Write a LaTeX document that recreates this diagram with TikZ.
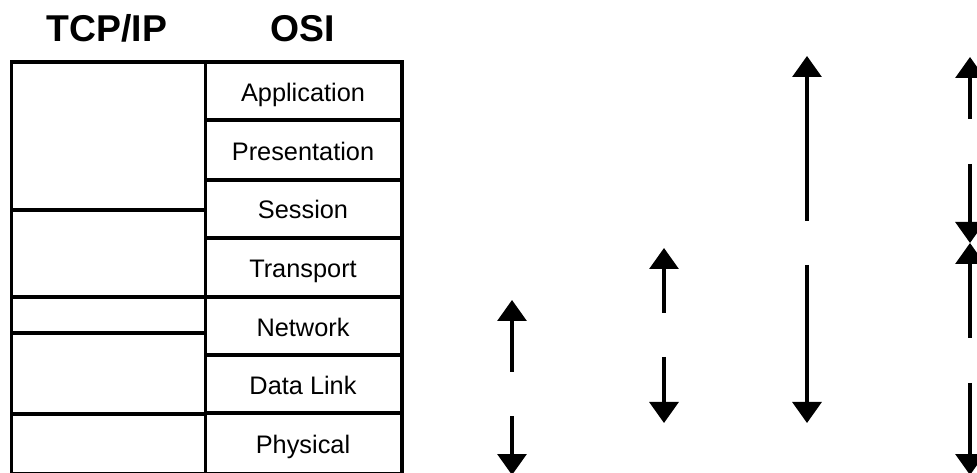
\documentclass[tikz,border=0pt]{standalone}
\usepackage{fontspec}
\setmainfont{Liberation Sans}
\usetikzlibrary{arrows.meta}
\begin{document}
\begin{tikzpicture}[x=0.75pt,y=-0.75pt,line width=2.4pt,line join=miter,
    >={Triangle[length=15.75pt,width=21.75pt]},
    head/.style={font=\bfseries\fontsize{28}{30}\selectfont,anchor=base},
    layer/.style={font=\fontsize{19}{21}\selectfont,anchor=base}]
    \useasboundingbox (0,0) rectangle (977,473);
    % column headers
    \node[head] (tcpip) at (107,42) {TCP/IP};
    \node[head] (osi) at (303,42) {OSI};
    % table
    \draw (11.5,62) rectangle (402,474);
    \draw (205.5,62) -- (205.5,474);
    \foreach \y in {120,180,238,297,355,413} \draw (205.5,\y) -- (402,\y);
    \foreach \y in {210,297,333,414} \draw (11.5,\y) -- (205.5,\y);
    % osi layers
    \foreach \name/\txt [count=\i] in {app/Application,pres/Presentation,sess/Session,trans/Transport,net/Network,link/Data Link,phys/Physical}
        \node[layer] (\name) at (303,{62+58.57*(\i-0.5)+10.5}) {\txt};
    % arrows
    \draw[->] (512,372) -- (512,300);
    \draw[->] (512,416) -- (512,475);
    \draw[->] (664,313) -- (664,248);
    \draw[->] (664,357) -- (664,423);
    \draw[->] (807,221) -- (807,56);
    \draw[->] (807,265) -- (807,423);
    \draw[->] (970,119) -- (970,57);
    \draw[->] (970,164) -- (970,243);
    \draw[->] (970,338) -- (970,243);
    \draw[->] (970,383) -- (970,475);
\end{tikzpicture}
\end{document}
